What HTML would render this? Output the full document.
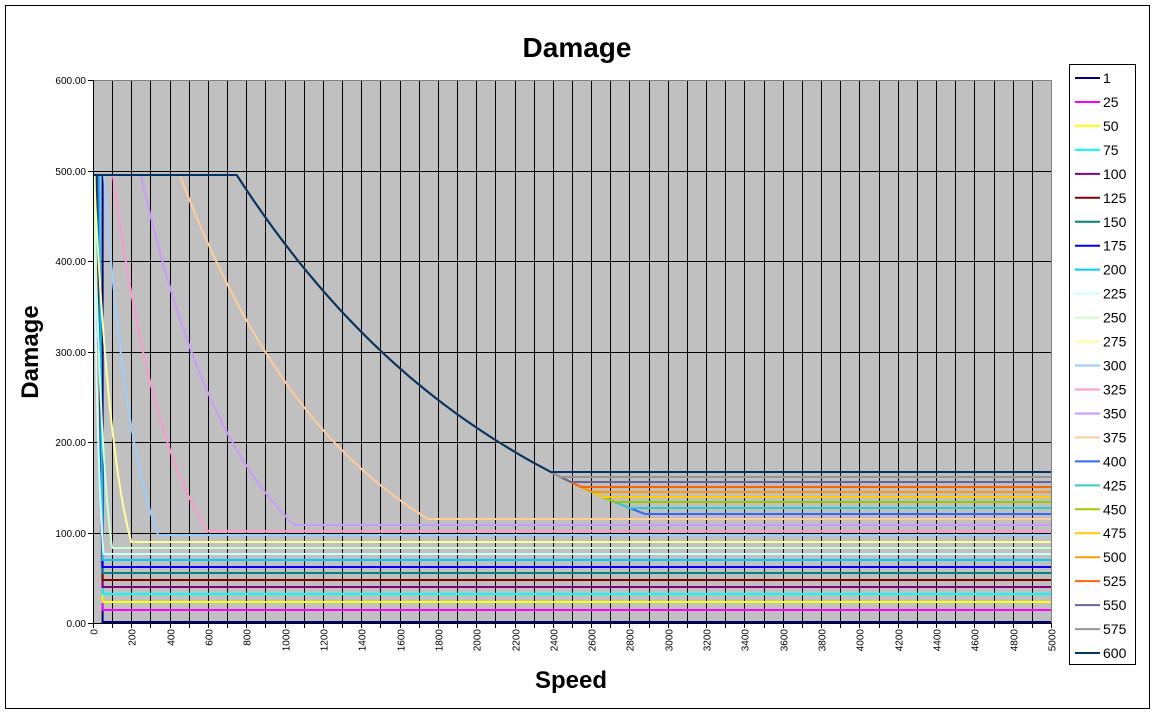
<!DOCTYPE html>
<html><head><meta charset="utf-8"><style>
html,body{margin:0;padding:0;background:#fff}
svg{display:block;font-family:"Liberation Sans",Arial,sans-serif}
</style></head><body>
<svg id="s" width="1156" height="714" xmlns="http://www.w3.org/2000/svg">
<rect x="0" y="0" width="1156" height="714" fill="#fff"/>
<rect x="5.5" y="5.5" width="1144" height="703" fill="none" stroke="#000" stroke-width="1"/>
<rect x="93" y="80" width="958" height="543" fill="#C0C0C0"/>
<g id="grid"></g>
<g id="series"></g>
<line x1="93" y1="80.5" x2="1051" y2="80.5" stroke="#808080"/>
<line x1="1051.5" y1="80" x2="1051.5" y2="623" stroke="#808080"/>
<line x1="93.5" y1="80" x2="93.5" y2="628" stroke="#000"/>
<line x1="88" y1="623.5" x2="1051" y2="623.5" stroke="#000"/>
<g id="ticks"></g>
<text x="577" y="57" text-anchor="middle" font-size="28" font-weight="bold">Damage</text>
<text x="571" y="688" text-anchor="middle" font-size="24" font-weight="bold">Speed</text>
<text transform="translate(38,352) rotate(-90)" text-anchor="middle" font-size="24" font-weight="bold">Damage</text>
<rect x="1069.5" y="64.5" width="66" height="600" fill="#fff" stroke="#000"/>
<g id="legend"></g>
</svg>
<script>
var NS="http://www.w3.org/2000/svg";
function el(p,t,a,txt){var e=document.createElementNS(NS,t);for(var k in a)e.setAttribute(k,a[k]);if(txt!==undefined)e.textContent=txt;document.getElementById(p).appendChild(e);return e;}
function X(s){return 93+s*958/5000;}
function Yv(v){return 623-v*0.905;}
function V(y){return (623-y)/0.905;}
for(var s=100;s<5000;s+=100){var x=Math.round(X(s))+0.5;el("grid","line",{x1:x,y1:80,x2:x,y2:623,stroke:"#000","stroke-width":1});}
for(var v=100;v<600;v+=100){var y=Math.round(Yv(v))+0.5;el("grid","line",{x1:93,y1:y,x2:1051,y2:y,stroke:"#000","stroke-width":1});}
for(var s=0;s<=5000;s+=100){var x=Math.round(X(s))+0.5;el("ticks","line",{x1:x,y1:623,x2:x,y2:628,stroke:"#000"});
 if(s%200==0){el("ticks","text",{transform:"translate("+(x+4)+",629) rotate(-90)","text-anchor":"end","font-size":"10"},String(s));}}
for(var v=0;v<=600;v+=100){var y=Math.round(Yv(v))+0.5;el("ticks","line",{x1:88,y1:y,x2:93,y2:y,stroke:"#000"});
 el("ticks","text",{x:86,y:y+3.5,"text-anchor":"end","font-size":"10"},v.toFixed(2));}
var names=[1,25,50,75,100,125,150,175,200,225,250,275,300,325,350,375,400,425,450,475,500,525,550,575,600];
var cols=["#000080","#FF00FF","#FFFF00","#00FFFF","#800080","#800000","#008080","#0000FF","#00CCFF","#CCFFFF","#CCFFCC","#FFFF99","#99CCFF","#FF99CC","#CC99FF","#FFCC99","#3366FF","#33CCCC","#99CC00","#FFCC00","#FF9900","#FF6600","#666699","#969696","#003366"];
var py=[622,610,602,594,587,580,573,567,560,554,548,542,535,531,525,519,514,508,502,497,492,487,482,477,472];
var TOP=495;
function P(pts,c){el("series","polyline",{points:pts.map(function(p){return p[0].toFixed(1)+","+p[1].toFixed(1)}).join(" "),fill:"none",stroke:c,"stroke-width":2});}
for(var i=0;i<25;i++){
 var pv=V(py[i]);
 if(i<=8){
  var xs=(i==0)?50:8+i*3;
  P([[X(xs),Yv(TOP)],[X(50),py[i]],[X(5000),py[i]]],cols[i]);continue;
 }
 var s0,s1;
 if(i>=16){s0=750;s1=s0+1508*Math.log(TOP/pv);}
 else{var m={15:[453,1750],14:[250,1050],13:[104,600],12:[57,340],11:[5,200],10:[3,100],9:[2,55]};s0=m[i][0];s1=m[i][1];}
 var T=(s1-s0)/Math.log(TOP/pv);
 var pts=[[X(0),Yv(TOP)],[X(s0),Yv(TOP)]];
 var n=40;for(var k=1;k<=n;k++){var s=s0+(s1-s0)*k/n;pts.push([X(s),Yv(TOP*Math.exp(-(s-s0)/T))]);}
 pts.push([X(5000),Yv(pv)]);
 P(pts,cols[i]);
}
for(var i=0;i<25;i++){var y=78+i*23.96;
 el("legend","line",{x1:1075,y1:y,x2:1100,y2:y,stroke:cols[i],"stroke-width":2});
 el("legend","text",{x:1103,y:y+5,"font-size":"14"},String(names[i]));}
</script>
</body></html>
